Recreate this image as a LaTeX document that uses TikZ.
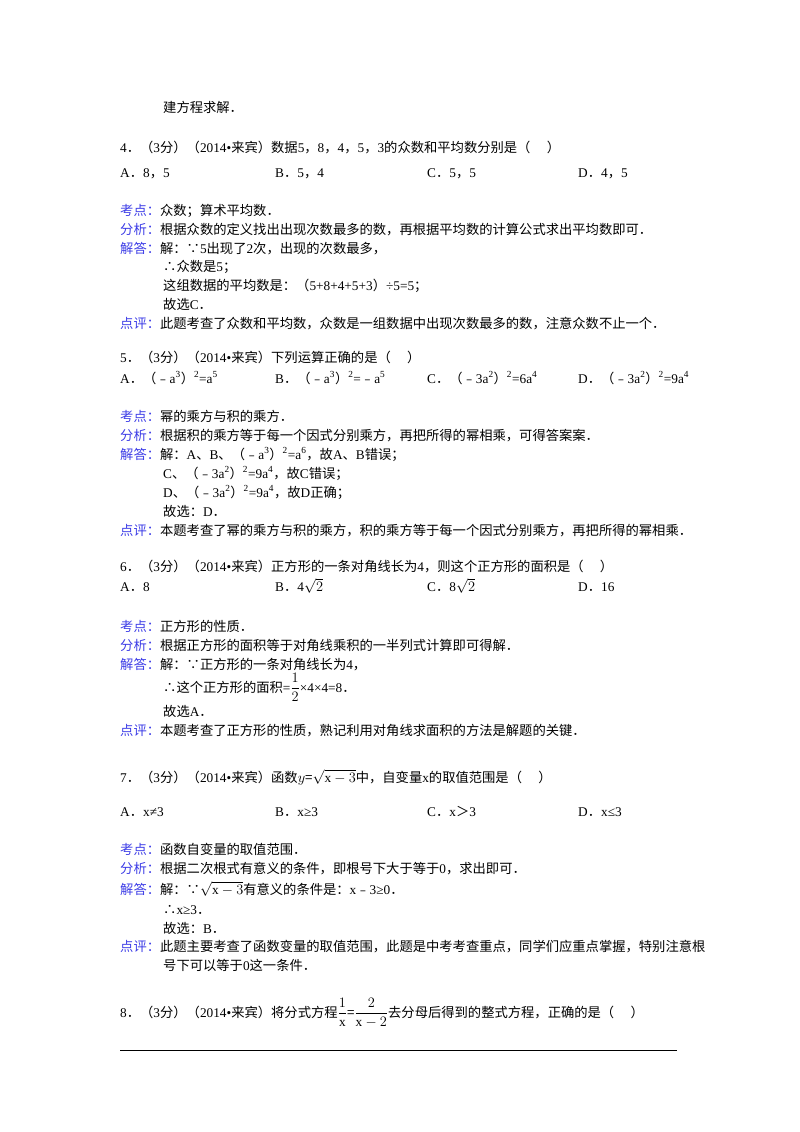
\documentclass[tikz,border=0pt]{standalone}
\usepackage{amsmath}
\usepackage{fontspec}
\setmainfont{Liberation Serif}
\newfontfamily\cjk{Noto Sans CJK SC}
\newfontfamily\lat{Liberation Serif}
\XeTeXinterchartokenstate=1
\newXeTeXintercharclass\cjkclass
\newcount\cc
\def\setrange#1#2{\cc=#1 \loop\XeTeXcharclass\cc=\cjkclass\ifnum\cc<#2 \advance\cc 1 \repeat}
\setrange{"4E00}{"9FFF}
\setrange{"3000}{"303F}
\setrange{"FF00}{"FFEF}
\setrange{"FE30}{"FE6F}
\setrange{"2234}{"2235}
\XeTeXinterchartoks 0 \cjkclass={\cjk}
\XeTeXinterchartoks 4095 \cjkclass={\cjk}
\XeTeXinterchartoks \cjkclass 0={\lat}
\definecolor{lab}{RGB}{60,60,230}
\newcommand\lb[1]{\textcolor{lab}{#1}}
\newcommand\sps[1]{\textsuperscript{\lat #1}\lat}
\begin{document}
\begin{tikzpicture}[x=1pt,y=-1pt,t/.style={anchor=base west,inner sep=0pt,font=\fontsize{13.3}{16}\selectfont}]
\useasboundingbox (0,0) rectangle (800,1132);
\node[t] (l1) at (163,112) {建方程求解．};
\node[t] (q4) at (120,152) {4．（3分）（2014•来宾）数据5，8，4，5，3的众数和平均数分别是（\quad\ ）};
\node[t] (a4) at (120,177) {A．8，5};
\node[t] (b4) at (275,177) {B．5，4};
\node[t] (c4) at (427,177) {C．5，5};
\node[t] (d4) at (578,177) {D．4，5};
\node[t] (k4) at (120,215) {\lb{考点：}众数；算术平均数．};
\node[t] (f4) at (120,234) {\lb{分析：}根据众数的定义找出出现次数最多的数，再根据平均数的计算公式求出平均数即可．};
\node[t] (j4) at (120,253) {\lb{解答：}解：∵5出现了2次，出现的次数最多，};
\node[t] (j4b) at (163,271) {∴众数是5；};
\node[t] (j4c) at (163,290) {这组数据的平均数是：（5+8+4+5+3）÷5=5；};
\node[t] (j4d) at (163,309) {故选C．};
\node[t] (p4) at (120,328) {\lb{点评：}此题考查了众数和平均数，众数是一组数据中出现次数最多的数，注意众数不止一个．};
\node[t] (q5) at (120,362) {5．（3分）（2014•来宾）下列运算正确的是（\quad\ ）};
\node[t] (a5) at (120,383) {A．（﹣a\sps{3}）\sps{2}=a\sps{5}};
\node[t] (b5) at (275,383) {B．（﹣a\sps{3}）\sps{2}=﹣a\sps{5}};
\node[t] (c5) at (427,383) {C．（﹣3a\sps{2}）\sps{2}=6a\sps{4}};
\node[t] (d5) at (578,383) {D．（﹣3a\sps{2}）\sps{2}=9a\sps{4}};
\node[t] (k5) at (120,421) {\lb{考点：}幂的乘方与积的乘方．};
\node[t] (f5) at (120,440) {\lb{分析：}根据积的乘方等于每一个因式分别乘方，再把所得的幂相乘，可得答案案．};
\node[t] (j5) at (120,459) {\lb{解答：}解：A、B、（﹣a\sps{3}）\sps{2}=a\sps{6}，故A、B错误；};
\node[t] (j5b) at (163,478) {C、（﹣3a\sps{2}）\sps{2}=9a\sps{4}，故C错误；};
\node[t] (j5c) at (163,497) {D、（﹣3a\sps{2}）\sps{2}=9a\sps{4}，故D正确；};
\node[t] (j5d) at (163,516) {故选：D．};
\node[t] (p5) at (120,535) {\lb{点评：}本题考查了幂的乘方与积的乘方，积的乘方等于每一个因式分别乘方，再把所得的幂相乘．};
\node[t] (q6) at (120,571) {6．（3分）（2014•来宾）正方形的一条对角线长为4，则这个正方形的面积是（\quad\ ）};
\node[t] (a6) at (120,591) {A．8};
\node[t] (b6) at (275,591) {B．4$\sqrt{2}$};
\node[t] (c6) at (427,591) {C．8$\sqrt{2}$};
\node[t] (d6) at (578,591) {D．16};
\node[t] (k6) at (120,631) {\lb{考点：}正方形的性质．};
\node[t] (f6) at (120,650) {\lb{分析：}根据正方形的面积等于对角线乘积的一半列式计算即可得解．};
\node[t] (j6) at (120,669) {\lb{解答：}解：∵正方形的一条对角线长为4，};
\node[t] (j6b) at (163,692) {∴这个正方形的面积=$\dfrac{1}{2}$×4×4=8．};
\node[t] (j6c) at (163,716) {故选A．};
\node[t] (p6) at (120,735) {\lb{点评：}本题考查了正方形的性质，熟记利用对角线求面积的方法是解题的关键．};
\node[t] (q7) at (120,782) {7．（3分）（2014•来宾）函数$y$=$\sqrt{\mathrm{x}-3}$中，自变量x的取值范围是（\quad\ ）};
\node[t] (a7) at (120,816) {A．x≠3};
\node[t] (b7) at (275,816) {B．x≥3};
\node[t] (c7) at (427,816) {C．x＞3};
\node[t] (d7) at (578,816) {D．x≤3};
\node[t] (k7) at (120,854) {\lb{考点：}函数自变量的取值范围．};
\node[t] (f7) at (120,873) {\lb{分析：}根据二次根式有意义的条件，即根号下大于等于0，求出即可．};
\node[t] (j7) at (120,894) {\lb{解答：}解：∵$\sqrt{\mathrm{x}-3}$有意义的条件是：x﹣3≥0．};
\node[t] (j7b) at (163,914) {∴x≥3．};
\node[t] (j7c) at (163,933) {故选：B．};
\node[t] (p7) at (120,951) {\lb{点评：}此题主要考查了函数变量的取值范围，此题是中考考查重点，同学们应重点掌握，特别注意根};
\node[t] (p7b) at (163,970) {号下可以等于0这一条件．};
\node[t] (q8) at (120,1017) {8．（3分）（2014•来宾）将分式方程$\dfrac{1}{\mathrm{x}}$=$\dfrac{2}{\mathrm{x}-2}$去分母后得到的整式方程，正确的是（\quad\ ）};
\coordinate (r1) at (120,1050);
\coordinate (r2) at (677,1050);
\draw[line width=1pt] (r1) -- (r2);
\end{tikzpicture}
\end{document}
